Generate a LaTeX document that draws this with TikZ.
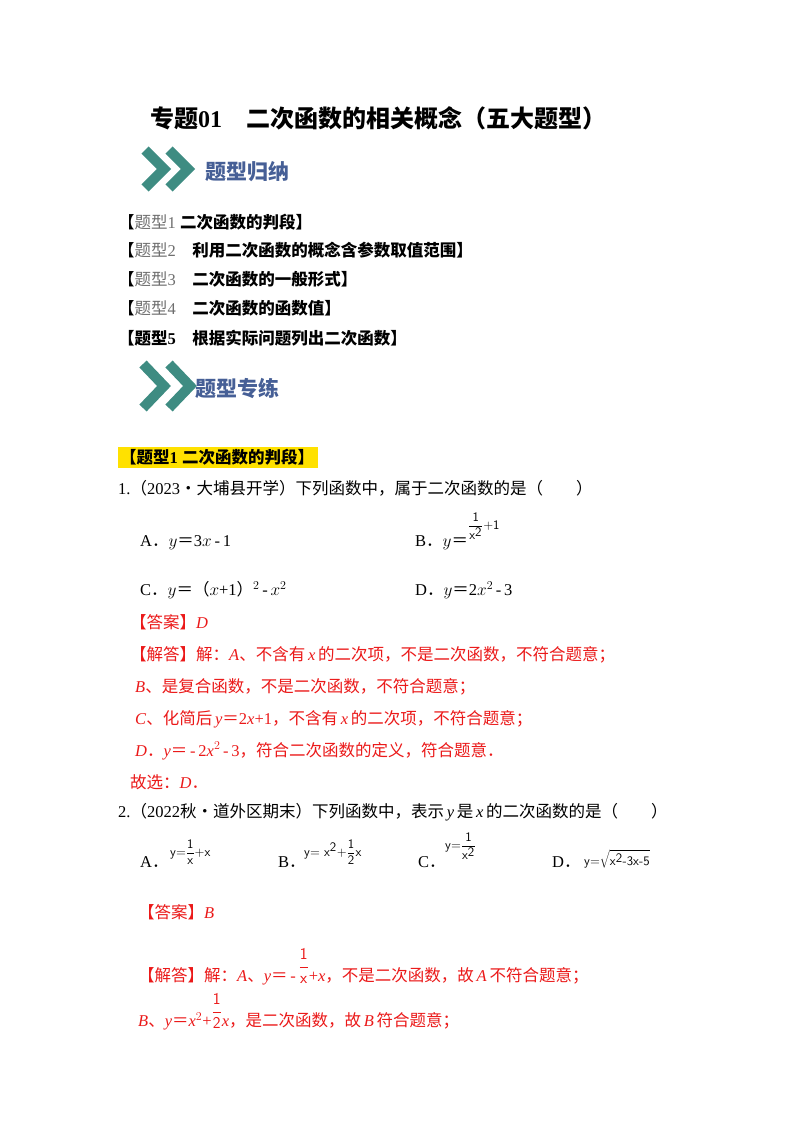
\documentclass[tikz,border=0pt]{standalone}
\usepackage{fontspec}
\setmainfont{Liberation Serif}
\newfontfamily\cjk{Noto Sans CJK SC}
\definecolor{teal1}{RGB}{62,140,130}
\definecolor{bann}{RGB}{70,95,150}
\definecolor{rd}{RGB}{235,25,25}
\definecolor{hl}{RGB}{255,225,0}
\definecolor{gry}{RGB}{110,110,110}
\newcommand{\tx}[1]{{\cjk #1}}
\newcommand{\upfr}[2]{\raisebox{0.62em}{$\displaystyle\frac{\textsf{#1}}{\textsf{#2}}$}}
\begin{document}
\begin{tikzpicture}[x=1pt,y=-1pt,
  every node/.style={inner sep=0pt,anchor=west,font=\fontsize{16.5}{19}\selectfont},
  chev/.style={draw=teal1,line width=10pt,line join=miter},
  bt/.style={font=\fontsize{21}{24}\selectfont\cjk\bfseries\itshape,text=bann},
  sm/.style={font=\fontsize{13}{15}\selectfont\sffamily},
  red/.style={text=rd}]
\useasboundingbox (0,0) rectangle (800,1132);
\fill[white] (0,0) rectangle (800,1132);
\node[font=\fontsize{24}{27}\selectfont\bfseries] (title) at (150,118) {\tx{\bfseries 专题}01\quad\tx{\bfseries 二次函数的相关概念（五大题型）}};
% banner 1
\draw[chev] (145,150) -- (164,169) -- (145,188);
\draw[chev] (169,150) -- (188,169) -- (169,188);
\node[bt] (b1) at (205,172) {题型归纳};
\node (l1) at (118,222) {\tx{【\textcolor{gry}{题型}}\textcolor{gry}{1}\ \tx{\bfseries 二次函数的判段】}};
\node (l2) at (118,250) {\tx{【\textcolor{gry}{题型}}\textcolor{gry}{2}\quad\tx{\bfseries 利用二次函数的概念含参数取值范围】}};
\node (l3) at (118,279) {\tx{【\textcolor{gry}{题型}}\textcolor{gry}{3}\quad\tx{\bfseries 二次函数的一般形式】}};
\node (l4) at (118,308) {\tx{【\textcolor{gry}{题型}}\textcolor{gry}{4}\quad\tx{\bfseries 二次函数的函数值】}};
\node (l5) at (118,338) {\tx{\bfseries 【题型}\textbf{5}\quad\tx{\bfseries 根据实际问题列出二次函数】}};
% banner 2
\draw[chev] (143,364) -- (164,386) -- (143,408);
\draw[chev] (169,364) -- (190,386) -- (169,408);
\node[bt] (b2) at (195,388) {题型专练};
\fill[hl] (118,447) rectangle (318,468);
\node (h1) at (120,457) {\tx{\bfseries 【题型}\textbf{1}\ \tx{\bfseries 二次函数的判段】}};
\node (q1) at (118,488) {1.\tx{（}2023\tx{•大埔县开学）下列函数中，属于二次函数的是（　　）}};
\node (q1a) at (140,543) {A\tx{．}$y$\tx{＝}3$x$\,-\,1};
\node (q1b) at (415,543) {B\tx{．}$y$\tx{＝}};
\node[sm] (q1bf) at (468,526) {$\displaystyle\frac{\textsf{1}}{\textsf{x}^{\textsf{2}}}$+1};
\node (q1c) at (140,590) {C\tx{．}$y$\tx{＝（}$x$+1\tx{）}$^2$\,-\,$x^2$};
\node (q1d) at (415,590) {D\tx{．}$y$\tx{＝}2$x^2$\,-\,3};
\node[red] (a1) at (130,622) {\tx{【答案】}\textit{D}};
\node[red] (s1) at (130,655) {\tx{【解答】解：}\textit{A}\tx{、不含有}\,\textit{x}\,\tx{的二次项，不是二次函数，不符合题意；}};
\node[red] (s2) at (135,687) {\textit{B}\tx{、是复合函数，不是二次函数，不符合题意；}};
\node[red] (s3) at (135,719) {\textit{C}\tx{、化简后}\,\textit{y}\tx{＝}2\textit{x}+1\tx{，不含有}\,\textit{x}\,\tx{的二次项，不符合题意；}};
\node[red] (s4) at (135,751) {\textit{D}\tx{．}\textit{y}\tx{＝}\,-\,2\textit{x}$^2$\,-\,3\tx{，符合二次函数的定义，符合题意．}};
\node[red] (s5) at (130,782) {\tx{故选：}\textit{D}\tx{．}};
\node (q2) at (118,812) {2.\tx{（}2022\tx{秋•道外区期末）下列函数中，表示}\,\textit{y}\,\tx{是}\,\textit{x}\,\tx{的二次函数的是（　　）}};
\node (q2a) at (140,862) {A\tx{．}};
\node[sm] (q2af) at (170,852) {y=$\displaystyle\frac{\textsf{1}}{\textsf{x}}$+x};
\node (q2b) at (278,862) {B\tx{．}};
\node[sm] (q2bf) at (304,852) {y= x$^{\textsf{2}}$+$\displaystyle\frac{\textsf{1}}{\textsf{2}}$x};
\node (q2c) at (418,862) {C\tx{．}};
\node[sm] (q2cf) at (445,846) {y=$\displaystyle\frac{\textsf{1}}{\textsf{x}^{\textsf{2}}}$};
\node (q2d) at (552,862) {D\tx{．}};
\node[sm] (q2df) at (584,859) {y=$\sqrt{\textsf{x}^{\textsf{2}}\textsf{-3x-5}}$};
\node[red] (a2) at (138,912) {\tx{【答案】}\textit{B}};
\node[red] (t1) at (138,967) {\tx{【解答】解：}\textit{A}\tx{、}\textit{y}\tx{＝}\,-\,\upfr{1}{x}+\textit{x}\tx{，不是二次函数，故}\,\textit{A}\,\tx{不符合题意；}};
\node[red] (t2) at (138,1012) {\textit{B}\tx{、}\textit{y}\tx{＝}\textit{x}$^2$+\upfr{1}{2}\textit{x}\tx{，是二次函数，故}\,\textit{B}\,\tx{符合题意；}};
\end{tikzpicture}
\end{document}
